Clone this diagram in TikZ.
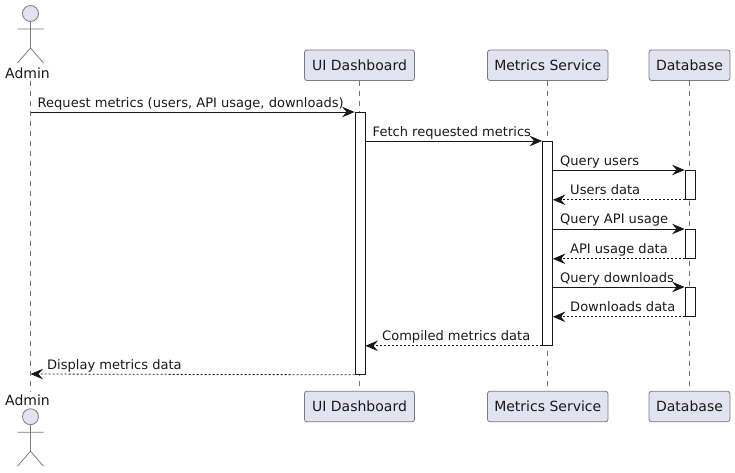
\documentclass[tikz,border=0pt]{standalone}
\usepackage{fontspec}
\setmainfont{DejaVu Sans}
\usetikzlibrary{arrows.meta,calc}
\definecolor{pfill}{HTML}{E2E2F0}
\definecolor{pline}{HTML}{7A7A85}
\definecolor{msgc}{HTML}{181818}
\tikzset{
  x=1pt,y=-1pt,
  partbox/.style={draw=pline,fill=pfill,rounded corners=2.5pt,line width=.8pt,minimum height=30.5pt,inner sep=0pt,font=\fontsize{14}{14}\selectfont,text=black!90},
  actlabel/.style={inner sep=0pt,font=\fontsize{14}{14}\selectfont,text=black!90},
  lifeline/.style={draw=black!55,line width=.6pt,dash pattern=on 5pt off 5pt},
  actbox/.style={draw=msgc,fill=white,line width=.8pt,minimum width=10pt,inner sep=0pt,anchor=north},
  actorline/.style={draw=pline,line width=.8pt},
  head/.style={draw=pline,fill=pfill,circle,line width=.8pt,minimum size=16pt,inner sep=0pt},
  syncmsg/.style={draw=msgc,line width=.8pt,-{Stealth[length=12.5pt,width=10.5pt,inset=4.5pt]}},
  retmsg/.style={draw=msgc,line width=.8pt,dash pattern=on 2pt off 2pt,-{Stealth[length=12.5pt,width=10.5pt,inset=4.5pt]}},
  msglabel/.style={inner sep=0pt,anchor=base west,font=\fontsize{13.04}{13}\selectfont,text=black!90},
}
\newcommand{\actorfig}[2]{% name, head-centre y
  \node[head] (#1head) at (30.5,#2) {};
  \coordinate (#1hip) at (30.5,#2+34.5);
  \coordinate (#1arml) at (17.5,#2+15.5);
  \coordinate (#1armr) at (43.5,#2+15.5);
  \coordinate (#1legl) at (17.5,#2+49.5);
  \coordinate (#1legr) at (43.5,#2+49.5);
  \draw[actorline] (#1head.south) -- (#1hip) (#1arml) -- (#1armr) (#1legl) -- (#1hip) -- (#1legr);
}
\begin{document}
\begin{tikzpicture}
\useasboundingbox (0,0) rectangle (735,472);
% participants
\node[partbox,minimum width=110pt] (uit) at (359.5,65.25) {UI Dashboard};
\node[partbox,minimum width=120.5pt] (mt) at (547.75,65.25) {Metrics Service};
\node[partbox,minimum width=81pt] (dt) at (689.5,65.25) {Database};
\node[partbox,minimum width=110pt] (uib) at (359.5,406.5) {UI Dashboard};
\node[partbox,minimum width=120.5pt] (mb) at (547.75,406.5) {Metrics Service};
\node[partbox,minimum width=81pt] (db) at (689.5,406.5) {Database};
% actors
\actorfig{top}{13.5}
\actorfig{bot}{416.7}
\node[actlabel] (admt) at (27.5,73) {Admin};
\node[actlabel] (admb) at (27.5,400) {Admin};
\coordinate (lt) at (30.5,81);
\coordinate (lb) at (30.5,392);
% lifelines
\draw[lifeline] (lt) -- (lb);
\draw[lifeline] (uit.south) -- (uib.north);
\draw[lifeline] (mt.south) -- (mb.north);
\draw[lifeline] (dt.south) -- (db.north);
% activations
\node[actbox,minimum height=262pt] (a1) at (360,112) {};
\node[actbox,minimum height=204pt] (a2) at (547.5,141) {};
\node[actbox,minimum height=29pt] (d1) at (690,170) {};
\node[actbox,minimum height=29pt] (d2) at (690,229) {};
\node[actbox,minimum height=29pt] (d3) at (690,287) {};
% free ends on Admin lifeline
\coordinate (s1) at (30.5,112);
\coordinate (s2) at (30.5,374);
% messages
\draw[syncmsg] (s1) -- (a1.north west);
\draw[syncmsg] (a1.east |- a2.north) -- (a2.north west);
\draw[syncmsg] (a2.east |- d1.north) -- (d1.north west);
\draw[retmsg] (d1.south west) -- (a2.east |- d1.south);
\draw[syncmsg] (a2.east |- d2.north) -- (d2.north west);
\draw[retmsg] (d2.south west) -- (a2.east |- d2.south);
\draw[syncmsg] (a2.east |- d3.north) -- (d3.north west);
\draw[retmsg] (d3.south west) -- (a2.east |- d3.south);
\draw[retmsg] (a2.south west) -- (a1.east |- a2.south);
\draw[retmsg] (a1.south west) -- (s2);
% labels
\node[msglabel] (m1) at (37.5,107.5) {Request metrics (users, API usage, downloads)};
\node[msglabel] (m2) at (372.5,136) {Fetch requested metrics};
\node[msglabel] (m3) at (560,165) {Query users};
\node[msglabel] (m4) at (570,194) {Users data};
\node[msglabel] (m5) at (560,223.5) {Query API usage};
\node[msglabel] (m6) at (570,253) {API usage data};
\node[msglabel] (m7) at (560,282) {Query downloads};
\node[msglabel] (m8) at (570,311) {Downloads data};
\node[msglabel] (m9) at (382,340) {Compiled metrics data};
\node[msglabel] (m10) at (47,369) {Display metrics data};
\end{tikzpicture}
\end{document}
